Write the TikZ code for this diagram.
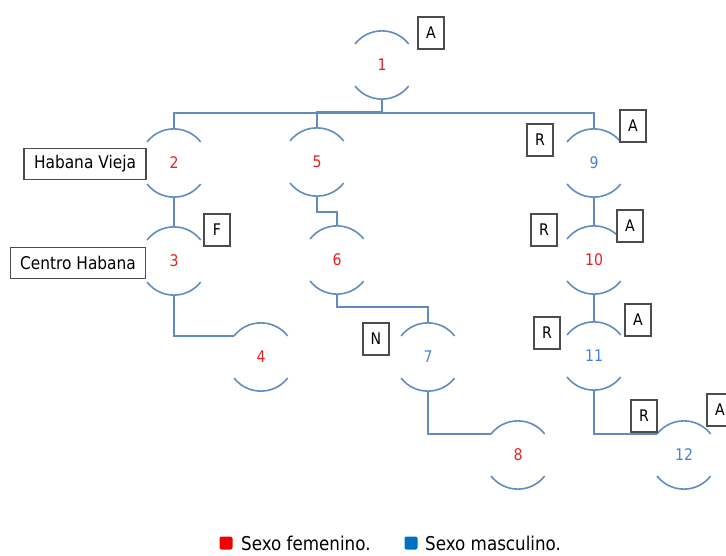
\documentclass[tikz,border=0pt]{standalone}
\usepackage{fontspec}
\setmainfont{DejaVu Sans}[FakeStretch=0.88]

\definecolor{linkblue}{RGB}{96,140,194}
\definecolor{femred}{RGB}{232,32,32}
\definecolor{mascblue}{RGB}{70,130,225}
\definecolor{legred}{RGB}{240,0,0}
\definecolor{legblue}{RGB}{0,112,192}

\tikzset{
  person/.style={circle, minimum size=68pt, inner sep=0pt, font=\fontsize{16}{18}\selectfont},
  fem/.style={person, text=femred},
  masc/.style={person, text=mascblue},
  link/.style={draw=linkblue, line width=1.6pt},
  tag/.style={draw=black!70, line width=1.2pt, fill=white, minimum width=26pt,
    minimum height=32pt, inner sep=0pt, font=\fontsize{16}{18}\selectfont},
  place/.style={draw=black!70, line width=1.2pt, fill=white, minimum height=31pt,
    inner xsep=10pt, font=\fontsize{17.5}{20}\selectfont},
  legbox/.style={minimum size=13pt, inner sep=0pt, rounded corners=2pt},
  legtext/.style={anchor=base west, inner sep=0pt, font=\fontsize{19}{21}\selectfont},
}

\begin{document}
\begin{tikzpicture}[x=1pt, y=-1pt]
    \useasboundingbox (0,0) rectangle (726,556);

    % Persons
    \node [fem]  (p1)  at (382,65)  {1};
    \node [fem]  (p2)  at (174,163) {2};
    \node [fem]  (p3)  at (174,261) {3};
    \node [fem]  (p4)  at (261,357) {4};
    \node [fem]  (p5)  at (317,162) {5};
    \node [fem]  (p6)  at (337,260) {6};
    \node [masc] (p7)  at (428,357) {7};
    \node [fem]  (p8)  at (518,455) {8};
    \node [masc] (p9)  at (594,163) {9};
    \node [fem]  (p10) at (594,260) {10};
    \node [masc] (p11) at (594,356) {11};
    \node [masc] (p12) at (684,455) {12};

    % Open circles: only top and bottom arcs
    \foreach \p in {p1,p2,p3,p4,p5,p6,p7,p8,p9,p10,p11,p12}
        \draw [link] (\p.142) arc [start angle=142, end angle=38, radius=34pt]
                     (\p.218) arc [start angle=218, end angle=322, radius=34pt];

    % Links
    \draw [link] (p1.south) -- ++(0,14) -| (p2.north);
    \draw [link] (p1.south) -- ++(0,13) -| (p5.north);
    \draw [link] (p1.south) -- ++(0,14) -| (p9.north);
    \draw [link] (p2.south) -- (p3.north);
    \draw [link] (p3.south) |- (p4.142);
    \draw [link] (p5.south) -- ++(0,16) -| (p6.north);
    \draw [link] (p6.south) -- ++(0,13) -| (p7.north);
    \draw [link] (p7.south) |- (p8.142);
    \draw [link] (p9.south) -- (p10.north);
    \draw [link] (p10.south) -- (p11.north);
    \draw [link] (p11.south) |- (p12.142);

    % Tags
    \node [tag] (a1)  at (431,33)  {A};
    \node [tag] (r9)  at (540,140) {R};
    \node [tag] (a9)  at (633,126) {A};
    \node [tag] (r10) at (544,230) {R};
    \node [tag] (a10) at (630,226) {A};
    \node [tag] (r11) at (547,333) {R};
    \node [tag] (a11) at (638,320) {A};
    \node [tag] (r12) at (644,416) {R};
    \node [tag] (a12) at (720,410) {A};
    \node [tag] (f3)  at (217,230) {F};
    \node [tag] (n7)  at (376,339) {N};

    % Places
    \node [place] (hv) at (85,164)  {Habana Vieja};
    \node [place] (ch) at (78,263)  {Centro Habana};

    % Legend
    \node [legbox, fill=legred]  (lf) at (226,543) {};
    \node [legtext] (tf) at (241,550) {Sexo femenino.};
    \node [legbox, fill=legblue] (lm) at (411,543) {};
    \node [legtext] (tm) at (425,550) {Sexo masculino.};
\end{tikzpicture}
\end{document}
